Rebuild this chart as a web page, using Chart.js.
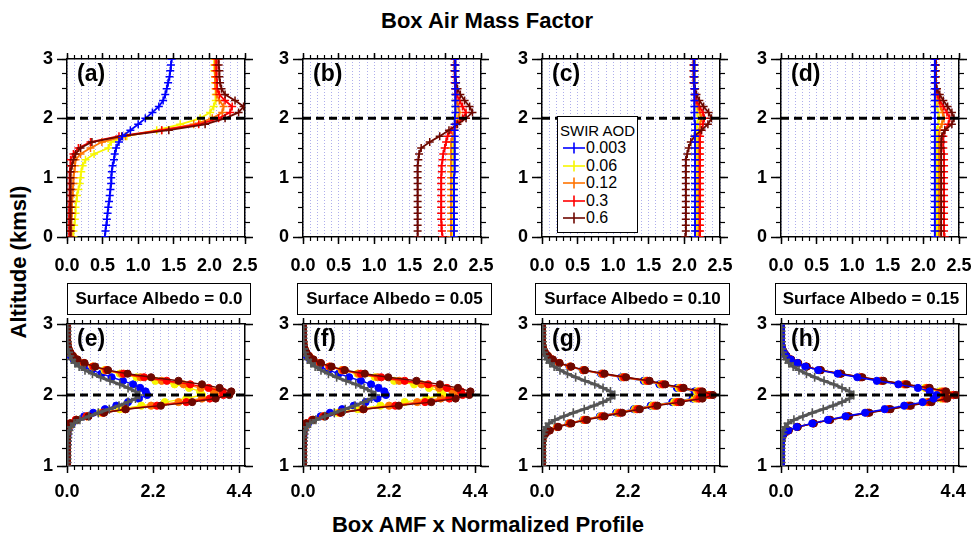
<!DOCTYPE html>
<html>
<head>
<meta charset="utf-8">
<script src="https://cdn.jsdelivr.net/npm/chart.js@4.4.1/dist/chart.umd.min.js"></script>
<style>
  body { margin: 0; width: 972px; height: 543px; position: relative; overflow: hidden; background: #fff;
         font-family: "Liberation Sans", Arial, Helvetica, sans-serif; color: #000; }
  canvas { position: absolute; }
  .title { position: absolute; font-weight: bold; font-size: 22px; white-space: nowrap; text-align: center; }
  .tag { position: absolute; font-weight: bold; font-size: 23px; line-height: 23px; z-index: 3; }
  .albedo { position: absolute; top: 283px; height: 32px; box-sizing: border-box; border: 1.5px solid #000;
            font-weight: bold; font-size: 17px; line-height: 29px; text-align: center; white-space: nowrap; }
  #legend { position: absolute; left: 557px; top: 116px; width: 81px; height: 117px; box-sizing: border-box;
            border: 1.5px solid #000; background: #fff; z-index: 3; padding-top: 5px; }
  .lg-title { font-size: 15px; line-height: 17px; text-align: center; }
  .lg-row { font-size: 16px; line-height: 17.5px; height: 17.5px; padding-left: 4px; white-space: nowrap; }
  .lg-row svg { vertical-align: -2px; }
</style>
</head>
<body>
<div class="title" style="left:287px;top:8px;width:400px;">Box Air Mass Factor</div>
<div class="title" style="left:288px;top:512px;width:400px;">Box AMF x Normalized Profile</div>
<div class="title" style="left:-81px;top:249px;width:200px;transform:rotate(-90deg);">Altitude (kmsl)</div>
<div id="legend"><div class="lg-title">SWIR AOD</div></div>

<script>
// ======================
// DATA
// ======================
const AOD_LABELS = ['0.003', '0.06', '0.12', '0.3', '0.6'];
const ALBEDO_LABELS = ['Surface Albedo = 0.0', 'Surface Albedo = 0.05', 'Surface Albedo = 0.10', 'Surface Albedo = 0.15'];
const TOP_TAGS = ['(a)', '(b)', '(c)', '(d)'];
const BOT_TAGS = ['(e)', '(f)', '(g)', '(h)'];

// altitude grids (kmsl)
const ALT_TOP = [0.0,0.1,0.2,0.3,0.4,0.5,0.6,0.7,0.8,0.9,1.0,1.1,1.2,1.3,1.4,1.5,1.6,1.7,1.8,1.9,2.0,2.1,2.2,2.3,2.4,2.5,2.6,2.7,2.8,2.9,3.0];
const ALT_BOT = [1.00,1.05,1.10,1.15,1.20,1.25,1.30,1.35,1.40,1.45,1.50,1.55,1.60,1.65,1.70,1.75,1.80,1.85,1.90,1.95,2.00,
                 2.05,2.10,2.15,2.20,2.25,2.30,2.35,2.40,2.45,2.50,2.55,2.60,2.65,2.70,2.75,2.80,2.85,2.90,2.95,3.00];

// box AMF, albedo 0.0
const AMF_A_0003 = [0.53,0.54,0.55,0.56,0.57,0.58,0.59,0.60,0.61,0.62,0.62,0.63,0.64,0.66,0.67,0.69,0.73,0.78,0.89,1.00,1.10,1.20,1.29,1.35,1.38,1.40,1.42,1.44,1.45,1.46,1.47];
const AMF_A_006  = [0.09,0.09,0.10,0.11,0.12,0.12,0.13,0.14,0.16,0.18,0.19,0.20,0.22,0.26,0.38,0.58,0.62,0.84,1.26,1.59,1.87,2.01,2.06,2.09,2.09,2.09,2.08,2.08,2.07,2.07,2.07];
const AMF_A_012  = [0.06,0.06,0.06,0.06,0.07,0.07,0.07,0.08,0.08,0.09,0.09,0.10,0.11,0.12,0.19,0.33,0.49,0.82,1.33,1.78,2.04,2.18,2.20,2.14,2.10,2.09,2.09,2.08,2.08,2.08,2.08];
const AMF_A_03   = [0.03,0.03,0.03,0.03,0.03,0.03,0.04,0.04,0.04,0.04,0.04,0.04,0.05,0.05,0.09,0.16,0.33,0.73,1.33,1.85,2.13,2.29,2.32,2.22,2.14,2.11,2.11,2.10,2.10,2.10,2.10];
const AMF_A_06   = [0.05,0.05,0.05,0.05,0.05,0.05,0.05,0.05,0.05,0.05,0.05,0.05,0.07,0.09,0.12,0.19,0.35,0.77,1.43,1.94,2.22,2.41,2.48,2.36,2.22,2.17,2.15,2.14,2.14,2.13,2.13];

// box AMF, albedo 0.05
const AMF_B_0003 = [2.12,2.12,2.12,2.12,2.12,2.12,2.12,2.12,2.12,2.12,2.12,2.13,2.13,2.13,2.13,2.13,2.13,2.13,2.13,2.13,2.13,2.14,2.14,2.14,2.14,2.14,2.14,2.14,2.14,2.14,2.14];
const AMF_B_006  = [2.11,2.11,2.11,2.11,2.11,2.11,2.11,2.11,2.11,2.11,2.11,2.11,2.11,2.11,2.11,2.11,2.11,2.11,2.12,2.13,2.15,2.15,2.14,2.14,2.14,2.14,2.14,2.14,2.14,2.14,2.14];
const AMF_B_012  = [2.08,2.08,2.08,2.08,2.08,2.08,2.08,2.08,2.08,2.08,2.08,2.08,2.08,2.08,2.08,2.08,2.08,2.10,2.12,2.15,2.18,2.20,2.18,2.16,2.15,2.14,2.14,2.14,2.14,2.14,2.14];
const AMF_B_03   = [1.96,1.95,1.95,1.94,1.94,1.94,1.94,1.94,1.94,1.94,1.94,1.95,1.95,1.96,1.97,1.99,2.01,2.03,2.08,2.15,2.24,2.29,2.24,2.20,2.16,2.14,2.13,2.13,2.13,2.13,2.13];
const AMF_B_06   = [1.61,1.61,1.61,1.61,1.61,1.61,1.61,1.61,1.61,1.61,1.61,1.61,1.61,1.62,1.63,1.66,1.78,1.92,2.05,2.17,2.29,2.38,2.34,2.27,2.21,2.17,2.15,2.14,2.13,2.13,2.13];

// box AMF, albedo 0.10
const AMF_C_0003 = [2.15,2.15,2.15,2.15,2.15,2.15,2.15,2.15,2.15,2.15,2.15,2.15,2.15,2.15,2.15,2.15,2.15,2.15,2.15,2.15,2.14,2.14,2.14,2.14,2.14,2.14,2.14,2.14,2.14,2.14,2.14];
const AMF_C_006  = [2.17,2.17,2.17,2.17,2.17,2.17,2.17,2.17,2.17,2.17,2.17,2.17,2.17,2.17,2.17,2.17,2.17,2.17,2.17,2.18,2.19,2.18,2.17,2.16,2.15,2.15,2.15,2.15,2.15,2.15,2.15];
const AMF_C_012  = [2.20,2.20,2.20,2.20,2.20,2.20,2.20,2.20,2.20,2.20,2.20,2.20,2.20,2.20,2.20,2.20,2.20,2.20,2.21,2.22,2.24,2.22,2.19,2.16,2.15,2.15,2.14,2.14,2.14,2.14,2.14];
const AMF_C_03   = [2.22,2.22,2.22,2.22,2.22,2.22,2.22,2.22,2.22,2.22,2.22,2.22,2.22,2.22,2.22,2.22,2.22,2.22,2.24,2.26,2.28,2.26,2.21,2.17,2.15,2.14,2.13,2.13,2.13,2.13,2.13];
const AMF_C_06   = [2.01,2.02,2.02,2.02,2.02,2.02,2.02,2.02,2.02,2.02,2.02,2.02,2.02,2.02,2.04,2.06,2.09,2.14,2.24,2.33,2.38,2.34,2.27,2.21,2.17,2.15,2.13,2.13,2.13,2.13,2.13];

// box AMF, albedo 0.15
const AMF_D_0003 = [2.16,2.16,2.16,2.16,2.16,2.16,2.16,2.16,2.16,2.16,2.16,2.16,2.16,2.16,2.16,2.16,2.16,2.16,2.16,2.16,2.16,2.16,2.16,2.16,2.16,2.16,2.16,2.16,2.16,2.16,2.16];
const AMF_D_006  = [2.19,2.19,2.19,2.19,2.19,2.19,2.19,2.19,2.19,2.19,2.19,2.19,2.19,2.19,2.19,2.19,2.19,2.19,2.19,2.21,2.22,2.21,2.19,2.18,2.17,2.17,2.17,2.17,2.17,2.17,2.17];
const AMF_D_012  = [2.22,2.22,2.22,2.22,2.22,2.22,2.22,2.22,2.22,2.22,2.22,2.22,2.22,2.22,2.22,2.22,2.22,2.22,2.23,2.26,2.29,2.27,2.24,2.21,2.19,2.18,2.17,2.17,2.17,2.17,2.17];
const AMF_D_03   = [2.30,2.29,2.29,2.29,2.29,2.29,2.29,2.29,2.29,2.29,2.29,2.29,2.29,2.29,2.29,2.28,2.28,2.28,2.30,2.35,2.37,2.33,2.28,2.23,2.20,2.18,2.17,2.17,2.17,2.17,2.17];
const AMF_D_06   = [2.25,2.25,2.25,2.25,2.25,2.25,2.25,2.25,2.25,2.25,2.25,2.25,2.25,2.25,2.25,2.25,2.25,2.26,2.30,2.40,2.43,2.40,2.34,2.28,2.23,2.19,2.17,2.17,2.17,2.17,2.17];

// normalized profile (gray)
const PROFILE_NORM = [0,0,0,0,0,0,0.01,0.01,0.02,0.03,0.05,0.10,0.18,0.33,0.56,0.80,1.08,1.33,1.56,1.75,1.86,
                      1.75,1.56,1.35,1.10,0.86,0.65,0.46,0.31,0.20,0.12,0.07,0.04,0.02,0.01,0.01,0,0,0,0,0];

// box AMF x normalized profile, albedo 0.0
const PRD_E_0003 = [0,0,0,0,0,0,0.01,0.01,0.01,0.02,0.03,0.07,0.13,0.25,0.44,0.67,0.97,1.26,1.56,1.84,2.05,2.01,1.87,1.69,1.43,1.14,0.88,0.63,0.43,0.28,0.17,0.10,0.06,0.03,0.01,0.01,0,0,0,0,0];
const PRD_E_006  = [0,0,0,0,0,0,0,0,0,0.01,0.02,0.05,0.11,0.25,0.50,0.85,1.35,1.90,2.50,3.05,3.45,3.40,3.12,2.75,2.26,1.78,1.35,0.96,0.65,0.42,0.25,0.15,0.08,0.04,0.02,0.01,0,0,0,0,0];
const PRD_E_012  = [0,0,0,0,0,0,0,0,0,0.01,0.02,0.05,0.10,0.24,0.52,0.92,1.48,2.15,2.85,3.45,3.80,3.75,3.42,2.98,2.42,1.88,1.40,0.99,0.66,0.42,0.25,0.15,0.08,0.04,0.02,0.01,0,0,0,0,0];
const PRD_E_03   = [0,0,0,0,0,0,0,0,0,0,0.01,0.03,0.08,0.22,0.50,0.92,1.50,2.30,3.05,3.65,4.00,3.98,3.62,3.15,2.55,1.97,1.45,1.02,0.68,0.44,0.26,0.15,0.08,0.04,0.02,0.01,0,0,0,0,0];
const PRD_E_06   = [0,0,0,0,0,0,0,0,0,0,0.01,0.03,0.08,0.25,0.55,0.95,1.50,2.40,3.20,3.80,4.15,4.20,3.90,3.45,2.85,2.15,1.55,1.05,0.72,0.45,0.27,0.15,0.08,0.04,0.02,0.01,0,0,0,0,0];

// albedo 0.05
const PRD_F_0003 = [0,0,0,0,0,0,0.01,0.01,0.01,0.02,0.03,0.07,0.13,0.26,0.45,0.69,1.00,1.30,1.60,1.90,2.12,2.08,1.93,1.74,1.48,1.18,0.91,0.65,0.44,0.29,0.18,0.10,0.06,0.03,0.01,0.01,0,0,0,0,0];
const PRD_F_006  = [0,0,0,0,0,0,0,0,0,0.01,0.02,0.05,0.11,0.26,0.52,0.88,1.40,1.98,2.60,3.15,3.58,3.52,3.22,2.84,2.33,1.84,1.39,0.99,0.67,0.43,0.26,0.15,0.08,0.04,0.02,0.01,0,0,0,0,0];
const PRD_F_012  = [0,0,0,0,0,0,0,0,0,0.01,0.02,0.05,0.10,0.25,0.54,0.95,1.52,2.20,2.92,3.52,3.88,3.82,3.48,3.03,2.46,1.91,1.42,1.00,0.67,0.43,0.25,0.15,0.08,0.04,0.02,0.01,0,0,0,0,0];
const PRD_F_03   = [0,0,0,0,0,0,0,0,0,0,0.01,0.03,0.08,0.23,0.52,0.95,1.55,2.36,3.12,3.74,4.08,4.04,3.68,3.20,2.60,2.00,1.48,1.04,0.69,0.44,0.26,0.15,0.08,0.04,0.02,0.01,0,0,0,0,0];
const PRD_F_06   = [0,0,0,0,0,0,0,0,0,0,0.01,0.03,0.08,0.26,0.57,0.98,1.55,2.45,3.28,3.90,4.25,4.28,3.96,3.50,2.90,2.18,1.58,1.07,0.73,0.46,0.27,0.15,0.08,0.04,0.02,0.01,0,0,0,0,0];

// albedo 0.10
const PRD_G_0003 = [0,0,0,0,0,0,0,0.01,0.02,0.07,0.18,0.38,0.68,1.05,1.48,1.90,2.35,2.78,3.33,3.85,4.12,3.90,3.45,3.00,2.60,2.03,1.51,1.04,0.70,0.43,0.26,0.14,0.07,0.03,0.01,0,0,0,0,0,0];
const PRD_G_006  = [0,0,0,0,0,0,0,0.01,0.02,0.07,0.18,0.38,0.69,1.06,1.50,1.93,2.38,2.82,3.38,3.90,4.20,3.96,3.50,3.04,2.64,2.06,1.53,1.05,0.71,0.43,0.26,0.15,0.07,0.03,0.01,0,0,0,0,0,0];
const PRD_G_012  = [0,0,0,0,0,0,0,0.01,0.02,0.07,0.18,0.39,0.70,1.08,1.52,1.96,2.41,2.86,3.43,3.96,4.25,4.00,3.54,3.07,2.67,2.08,1.54,1.06,0.72,0.44,0.26,0.15,0.07,0.03,0.01,0,0,0,0,0,0];
const PRD_G_03   = [0,0,0,0,0,0,0,0.01,0.02,0.07,0.19,0.40,0.72,1.10,1.55,2.00,2.45,2.90,3.48,4.02,4.30,4.05,3.58,3.10,2.70,2.10,1.56,1.07,0.73,0.44,0.27,0.15,0.07,0.03,0.01,0,0,0,0,0,0];
const PRD_G_06   = [0,0,0,0,0,0,0,0.01,0.02,0.08,0.20,0.42,0.75,1.15,1.60,2.05,2.50,2.95,3.55,4.10,4.37,4.10,3.62,3.15,2.75,2.15,1.60,1.10,0.75,0.45,0.28,0.15,0.07,0.03,0.01,0,0,0,0,0,0];

// albedo 0.15
const PRD_H_0003 = [0,0,0,0,0,0,0,0.01,0.02,0.06,0.18,0.40,0.80,1.20,1.65,2.15,2.65,3.15,3.62,3.90,3.98,3.80,3.50,3.00,2.45,1.95,1.45,0.95,0.62,0.42,0.25,0.13,0.07,0.03,0.01,0,0,0,0,0,0];
const PRD_H_006  = [0,0,0,0,0,0,0,0.01,0.02,0.07,0.19,0.41,0.81,1.22,1.68,2.19,2.70,3.21,3.71,4.08,4.30,4.06,3.68,3.12,2.53,2.01,1.49,0.98,0.64,0.43,0.25,0.14,0.07,0.03,0.01,0,0,0,0,0,0];
const PRD_H_012  = [0,0,0,0,0,0,0,0.01,0.02,0.07,0.19,0.41,0.82,1.23,1.70,2.21,2.73,3.24,3.75,4.14,4.36,4.12,3.72,3.15,2.56,2.03,1.51,0.99,0.64,0.43,0.26,0.14,0.07,0.03,0.01,0,0,0,0,0,0];
const PRD_H_03   = [0,0,0,0,0,0,0,0.01,0.02,0.07,0.19,0.42,0.83,1.25,1.72,2.23,2.76,3.28,3.80,4.20,4.42,4.18,3.76,3.18,2.58,2.05,1.52,1.00,0.65,0.43,0.26,0.14,0.07,0.03,0.01,0,0,0,0,0,0];
const PRD_H_06   = [0,0,0,0,0,0,0,0.01,0.02,0.07,0.20,0.43,0.84,1.26,1.74,2.26,2.80,3.32,3.85,4.25,4.48,4.22,3.80,3.22,2.62,2.08,1.54,1.02,0.66,0.44,0.26,0.14,0.07,0.03,0.01,0,0,0,0,0,0];

// ======================
// STYLE / LAYOUT
// ======================
const COLORS = ['#0000ff', '#f7f700', '#ff7300', '#ff0000', '#6e0800'];
const GRAY = '#555555';
const GRID = '#aeaeec';
const FONT = '"Liberation Sans", Arial, Helvetica, sans-serif';

const PLOT_LEFT = [67, 303, 542, 781];
const PLOT_W = 178;
const PAD_L = 40, PAD_R = 18, PAD_T = 14, PAD_B = 46;

const TOP_ROW = { top: 59, h: 178, xmin: 0, xmax: 2.5, major: 0.5, minor: 0.1, ymin: 0, ymax: 3, labelPad: 11 };
const BOT_ROW = { top: 324, h: 142, xmin: 0, xmax: 4.55, major: 2.2, minor: 0.2, ymin: 1, ymax: 3, labelPad: 8 };

// ======================
// SCALES
// ======================
function fixH(h) {
  return s => { s.height = h; s.paddingLeft = 0; s.paddingRight = 0; s.paddingTop = 0; s.paddingBottom = 0; };
}
function fixW(w) {
  return s => { s.width = w; s.paddingLeft = 0; s.paddingRight = 0; s.paddingTop = 0; s.paddingBottom = 0; };
}

function buildScales(row) {
  const tickFont = { family: FONT, size: 18, weight: 'bold' };
  const common = { type: 'linear', ticks: { autoSkip: false, includeBounds: false, maxRotation: 0, minRotation: 0 } };
  const xr = { min: row.xmin, max: row.xmax };
  const yr = { min: row.ymin, max: row.ymax };

  return {
    x: {
      ...common, ...xr, position: 'bottom', weight: 1,
      ticks: { ...common.ticks, stepSize: row.major, color: '#000', font: tickFont, padding: row.labelPad,
               callback: v => Number(v).toFixed(1) },
      grid: { drawOnChartArea: false, tickLength: 7, tickColor: '#000', tickWidth: 1.5 },
      border: { color: '#000', width: 1.5 },
      afterFit: fixH(PAD_B)
    },
    xMinor: {
      ...common, ...xr, position: 'bottom', weight: 0,
      ticks: { ...common.ticks, stepSize: row.minor, display: false },
      grid: { color: GRID, lineWidth: 1, tickLength: 4, tickColor: '#000', tickWidth: 1.2 },
      border: { display: false, dash: [1, 2] },
      afterFit: fixH(0)
    },
    xTop: {
      ...common, ...xr, position: 'top', weight: 1,
      ticks: { ...common.ticks, stepSize: row.major, display: false },
      grid: { drawOnChartArea: false, tickLength: 6, tickColor: '#000', tickWidth: 1.5 },
      border: { color: '#000', width: 1.5 },
      afterFit: fixH(PAD_T)
    },
    xTopMinor: {
      ...common, ...xr, position: 'top', weight: 0,
      ticks: { ...common.ticks, stepSize: row.minor, display: false },
      grid: { drawOnChartArea: false, tickLength: 4, tickColor: '#000', tickWidth: 1.2 },
      border: { display: false },
      afterFit: fixH(0)
    },
    y: {
      ...common, ...yr, position: 'left', weight: 1,
      ticks: { ...common.ticks, stepSize: 1, color: '#000', font: tickFont, padding: 4,
               callback: v => Number(v).toFixed(0) },
      grid: { drawOnChartArea: false, tickLength: 10, tickColor: '#000', tickWidth: 1.5 },
      border: { color: '#000', width: 1.5 },
      afterFit: fixW(PAD_L)
    },
    yMinor: {
      ...common, ...yr, position: 'left', weight: 0,
      ticks: { ...common.ticks, stepSize: 0.25, display: false },
      grid: { drawOnChartArea: false, tickLength: 5, tickColor: '#000', tickWidth: 1.2 },
      border: { display: false },
      afterFit: fixW(0)
    },
    yRight: {
      ...common, ...yr, position: 'right', weight: 1,
      ticks: { ...common.ticks, stepSize: 1, display: false },
      grid: { drawOnChartArea: false, tickLength: 8, tickColor: '#000', tickWidth: 1.5 },
      border: { color: '#000', width: 1.5 },
      afterFit: fixW(PAD_R)
    },
    yRightMinor: {
      ...common, ...yr, position: 'right', weight: 0,
      ticks: { ...common.ticks, stepSize: 0.25, display: false },
      grid: { drawOnChartArea: false, tickLength: 5, tickColor: '#000', tickWidth: 1.2 },
      border: { display: false },
      afterFit: fixW(0)
    }
  };
}

// ======================
// DATASETS
// ======================
function toPoints(xs, ys) {
  return xs.map((x, i) => ({ x, y: ys[i] }));
}

function crossSeries(xs, ys, color) {
  return {
    data: toPoints(xs, ys), showLine: true, borderColor: color, backgroundColor: color,
    borderWidth: 1.8, pointStyle: 'cross', pointRadius: 4, pointBorderWidth: 1.5,
    pointBorderColor: color
  };
}

function dotSeries(xs, ys, color) {
  return {
    data: toPoints(xs, ys), showLine: true, borderColor: color, backgroundColor: color,
    borderWidth: 1.4, pointStyle: 'circle', pointRadius: 3.6, pointBorderWidth: 1,
    pointBorderColor: color, pointBackgroundColor: color
  };
}

function grayProfile() {
  return {
    data: toPoints(PROFILE_NORM, ALT_BOT), showLine: true, borderColor: GRAY, backgroundColor: GRAY,
    borderWidth: 3, pointStyle: 'cross', pointRadius: 4.5, pointBorderWidth: 1.6, pointBorderColor: GRAY
  };
}

function refLine(row) {
  return {
    data: [{ x: row.xmin, y: 2 }, { x: row.xmax, y: 2 }], showLine: true,
    borderColor: '#000', borderWidth: 3, borderDash: [8, 5], pointRadius: 0
  };
}

// ======================
// PANEL
// ======================
function makePanel(col, row, datasets, tag) {
  const canvas = document.createElement('canvas');
  canvas.width = PAD_L + PLOT_W + PAD_R;
  canvas.height = PAD_T + row.h + PAD_B;
  canvas.style.left = (PLOT_LEFT[col] - PAD_L) + 'px';
  canvas.style.top = (row.top - PAD_T) + 'px';
  document.body.appendChild(canvas);

  new Chart(canvas, {
    type: 'scatter',
    data: { datasets },
    options: {
      responsive: false,
      animation: false,
      events: [],
      layout: { padding: 0 },
      plugins: { legend: { display: false }, tooltip: { enabled: false } },
      scales: buildScales(row)
    }
  });

  const t = document.createElement('div');
  t.className = 'tag';
  t.textContent = tag;
  t.style.left = (PLOT_LEFT[col] + 10) + 'px';
  t.style.top = (row.top + 3) + 'px';
  document.body.appendChild(t);
}

// top row: box AMF (first dataset is drawn on top)
const TOP_SERIES = [
  [AMF_A_0003, AMF_A_006, AMF_A_012, AMF_A_03, AMF_A_06],
  [AMF_B_0003, AMF_B_006, AMF_B_012, AMF_B_03, AMF_B_06],
  [AMF_C_0003, AMF_C_006, AMF_C_012, AMF_C_03, AMF_C_06],
  [AMF_D_0003, AMF_D_006, AMF_D_012, AMF_D_03, AMF_D_06]
];
const TOP_ORDER = [0, 4, 3, 2, 1];

TOP_SERIES.forEach((set, col) => {
  const ds = [refLine(TOP_ROW)];
  TOP_ORDER.forEach(k => ds.push(crossSeries(set[k], ALT_TOP, COLORS[k])));
  makePanel(col, TOP_ROW, ds, TOP_TAGS[col]);
});

// bottom row: box AMF x normalized profile
const BOT_SERIES = [
  [PRD_E_0003, PRD_E_006, PRD_E_012, PRD_E_03, PRD_E_06],
  [PRD_F_0003, PRD_F_006, PRD_F_012, PRD_F_03, PRD_F_06],
  [PRD_G_0003, PRD_G_006, PRD_G_012, PRD_G_03, PRD_G_06],
  [PRD_H_0003, PRD_H_006, PRD_H_012, PRD_H_03, PRD_H_06]
];
const BOT_ORDER = [[4, 3, 2, 1, 0], [4, 3, 2, 1, 0], [4, 3, 2, 1, 0], [0, 4, 3, 2, 1]];

BOT_SERIES.forEach((set, col) => {
  const ds = [refLine(BOT_ROW), grayProfile()];
  BOT_ORDER[col].forEach(k => ds.push(dotSeries(set[k], ALT_BOT, COLORS[k])));
  makePanel(col, BOT_ROW, ds, BOT_TAGS[col]);
});

// ======================
// ALBEDO BOXES + LEGEND
// ======================
const ALBEDO_BOX = [[67, 184], [297, 195], [535, 195], [775, 192]];
ALBEDO_LABELS.forEach((txt, i) => {
  const d = document.createElement('div');
  d.className = 'albedo';
  d.textContent = txt;
  d.style.left = ALBEDO_BOX[i][0] + 'px';
  d.style.width = ALBEDO_BOX[i][1] + 'px';
  document.body.appendChild(d);
});

const legend = document.getElementById('legend');
AOD_LABELS.forEach((lab, i) => {
  const c = COLORS[i];
  const row = document.createElement('div');
  row.className = 'lg-row';
  row.innerHTML =
    '<svg width="24" height="14"><line x1="1" y1="7" x2="23" y2="7" stroke="' + c + '" stroke-width="1.6"/>' +
    '<line x1="12" y1="1.5" x2="12" y2="12.5" stroke="' + c + '" stroke-width="1.6"/></svg>' +
    '<span>' + lab + '</span>';
  legend.appendChild(row);
});
</script>
</body>
</html>
